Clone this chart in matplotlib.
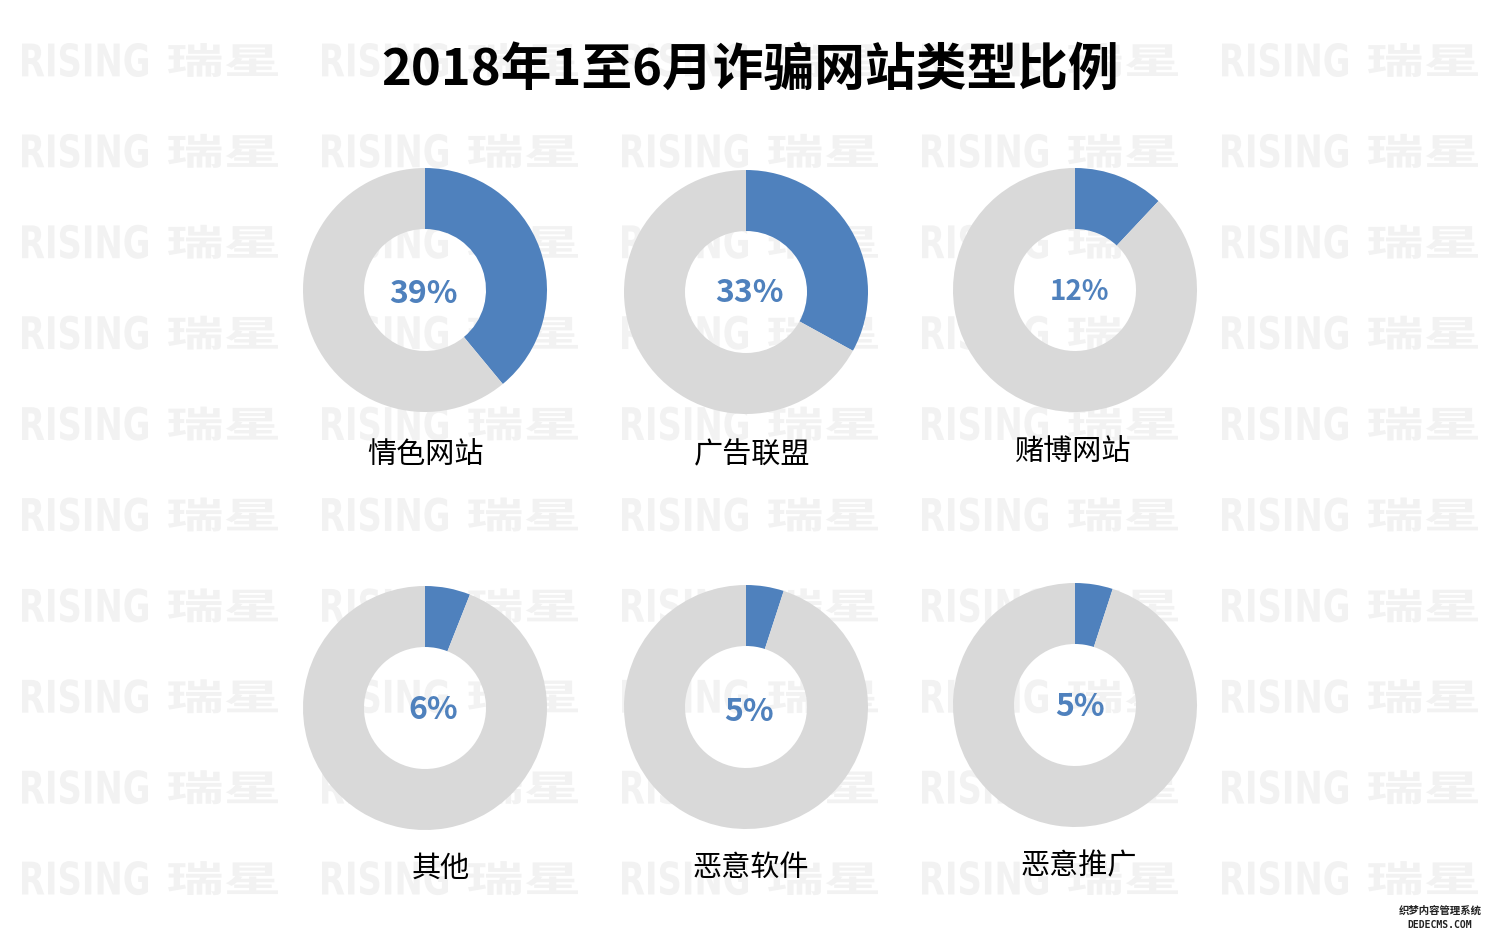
import matplotlib as mpl
mpl.use("Agg")
import matplotlib.pyplot as plt
from matplotlib.textpath import TextPath
from matplotlib.patches import PathPatch
from matplotlib.font_manager import FontProperties
from matplotlib.transforms import Affine2D

plt.rcParams['font.family'] = ['Noto Sans CJK SC', 'DejaVu Sans']

title = "2018年1至6月诈骗网站类型比例"
categories = ["情色网站", "广告联盟", "赌博网站", "其他", "恶意软件", "恶意推广"]
percents = [39, 33, 12, 6, 5, 5]

blue = "#4f81bd"
grey = "#d9d9d9"
mark = "#f2f2f2"

W, H = 1500, 938
fig = plt.figure(figsize=(W / 100, H / 100), dpi=100)
fig.patch.set_facecolor("white")


def stamp(s, prop, x0, x1, ytop, ybot):
    # text path squeezed into a pixel box (top-left origin)
    tp = TextPath((0, 0), s, size=50, prop=prop)
    ext = tp.get_extents()
    sx = (x1 - x0) / ext.width
    sy = (ybot - ytop) / ext.height
    tr = Affine2D().translate(-ext.x0, -ext.y0).scale(sx, sy).translate(x0, H - ybot)
    patch = PathPatch(tp, facecolor=mark, edgecolor="none", transform=tr, zorder=-5)
    fig.add_artist(patch)


latin = FontProperties(family="DejaVu Sans", weight="bold")
cjk = FontProperties(family="Noto Sans CJK SC", weight="heavy")
for row in range(10):
    yc = 60 + row * 90.9
    for col in range(5):
        x = 22 + col * 300
        stamp("RISING", latin, x, x + 126, yc - 17, yc + 17)
        stamp("瑞星", cjk, x + 146, x + 256, yc - 17, yc + 17)

fig.text(750 / W, 1 - 70 / H, title, fontsize=36.5, fontweight="bold",
         color="black", ha="center", va="center", zorder=5)

# donut centres in pixels, label positions in pixels
centres = [(425, 290), (746, 292), (1075, 290), (425, 708), (746, 707), (1075, 705)]
pct_pos = [(423, 294), (749, 293), (1080, 292), (433, 710), (749, 712), (1080, 707)]
pct_size = [23, 23, 20, 23, 23, 23]
lab_pos = [(425, 455), (752, 455), (1072, 452), (441, 869), (751, 868), (1079, 866)]

R = 122
for i in range(len(categories)):
    cx, cy = centres[i]
    ax = fig.add_axes([(cx - R) / W, 1 - (cy + R) / H, 2 * R / W, 2 * R / H])
    ax.patch.set_alpha(0)
    p = percents[i]
    ax.pie([p, 100 - p], colors=[blue, grey], startangle=90, counterclock=False,
           radius=1, wedgeprops=dict(width=0.5, linewidth=0))
    ax.set_xlim(-1, 1)
    ax.set_ylim(-1, 1)
    ax.axis("off")

    px, py = pct_pos[i]
    fig.text(px / W, 1 - py / H, str(p) + "%", fontsize=pct_size[i],
             fontweight="bold", color=blue, ha="center", va="center", zorder=5)
    lx, ly = lab_pos[i]
    fig.text(lx / W, 1 - ly / H, categories[i], fontsize=21, color="black",
             ha="center", va="center", zorder=5)

# small logo bottom right
fig.text(1440 / W, 1 - 911 / H, "织梦内容管理系统", fontsize=7.5, fontweight="bold",
         color="#222222", ha="center", va="center", zorder=5)
fig.text(1440 / W, 1 - 925 / H, "DEDECMS.COM", fontsize=7, fontweight="bold",
         color="#222222", ha="center", va="center", family=["DejaVu Sans Mono"], zorder=5)

fig.savefig("out.png", dpi=100, facecolor="white")
